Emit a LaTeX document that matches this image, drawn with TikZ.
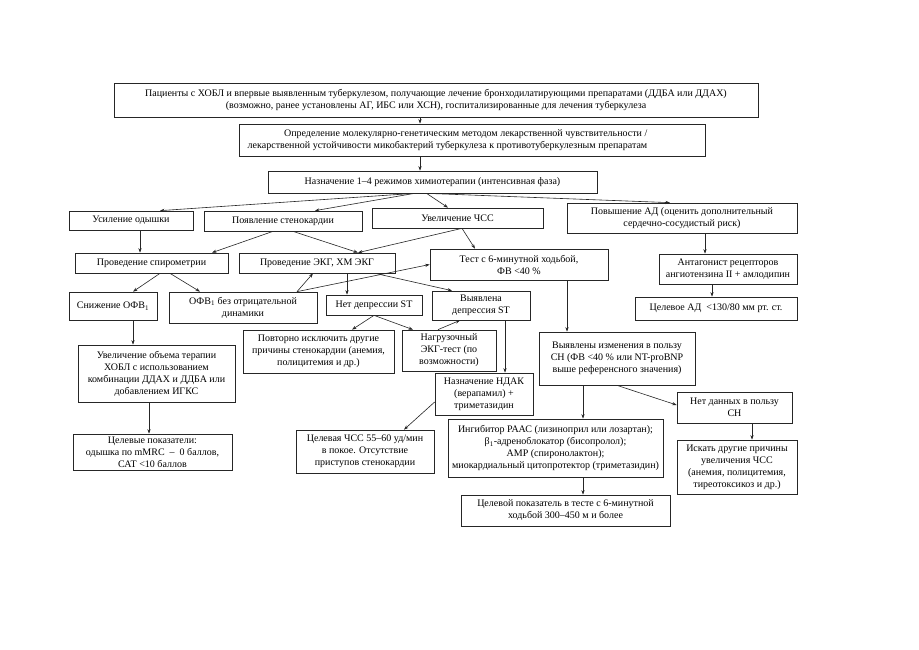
\documentclass[tikz,border=0pt]{standalone}
\usepackage{fontspec}
\setmainfont{Liberation Serif}
\usetikzlibrary{arrows.meta}
\begin{document}
\begin{tikzpicture}[x=1pt,y=-1pt,
  box/.style={draw=black!85,line width=0.7pt,inner sep=1pt,align=center,
    font=\fontsize{10}{12}\selectfont},
  txt/.style={inner sep=0pt,font=\fontsize{10}{12}\selectfont},
  arr/.style={draw=black!85,line width=0.6pt,-{Stealth[length=4.5pt,width=3.2pt]}},
  ln/.style={draw=black!85,line width=0.6pt}]
\useasboundingbox[fill=white] (0,0) rectangle (919,650);
% row 1-3
\node[box,minimum width=644pt,minimum height=34pt] (p1) at (436,100)
 {Пациенты с ХОБЛ и впервые выявленным туберкулезом, получающие лечение бронходилатирующими препаратами (ДДБА или ДДАХ)\\(возможно, ранее установлены АГ, ИБС или ХСН), госпитализированные для лечения туберкулеза};
\node[box,minimum width=466pt,minimum height=32pt] (p2) at (472,140) {};
\node[txt,align=right] (p2t) at (447.5,140)
 {Определение молекулярно-генетическим методом лекарственной чувствительности /\\лекарственной устойчивости микобактерий туберкулеза к противотуберкулезным препаратам};
\node[box,minimum width=329pt,minimum height=22pt] (p3) at (432.5,182)
 {Назначение 1–4 режимов химиотерапии (интенсивная фаза)};
% row 2
\node[box,minimum width=124pt,minimum height=19pt] (dysp) at (131,220.5) {Усиление одышки};
\node[box,minimum width=158pt,minimum height=20pt] (ang) at (283,221) {Появление стенокардии};
\node[box,minimum width=171pt,minimum height=20pt] (hr) at (457.5,218) {Увеличение ЧСС};
\node[box,minimum width=230pt,minimum height=30pt] (bp) at (682,218) {Повышение АД (оценить дополнительный\\сердечно-сосудистый риск)};
% row 3
\node[box,minimum width=153pt,minimum height=20pt] (spiro) at (151.5,263) {Проведение спирометрии};
\node[box,minimum width=156pt,minimum height=20pt] (ekg) at (317,263) {Проведение ЭКГ, ХМ ЭКГ};
\node[box,minimum width=178pt,minimum height=31pt] (test) at (519,264.5) {Тест с 6-минутной ходьбой,\\ФВ <40~\%};
\node[box,minimum width=138pt,minimum height=30pt] (ant) at (728,269) {Антагонист рецепторов\\ангиотензина II + амлодипин};
% row 4
\node[box,minimum width=88pt,minimum height=28pt] (fev) at (113,306) {Снижение ОФВ\textsubscript{1}};
\node[box,minimum width=148pt,minimum height=31pt] (fevn) at (243,307.5) {ОФВ\textsubscript{1} без отрицательной\\динамики};
\node[box,minimum width=96pt,minimum height=20pt] (nost) at (374,305) {Нет депрессии ST};
\node[box,minimum width=98pt,minimum height=29pt] (yesst) at (481,305.5) {Выявлена\\депрессия ST};
\node[box,minimum width=162pt,minimum height=23pt] (tgtbp) at (716,308.5) {Целевое АД~~<130/80 мм рт. ст.};
% row 5
\node[box,minimum width=151pt,minimum height=43pt] (rep) at (318.5,351.5) {Повторно исключить другие\\причины стенокардии (анемия,\\полицитемия и др.)};
\node[box,minimum width=94pt,minimum height=41pt] (load) at (449,350.5) {Нагрузочный\\ЭКГ-тест (по\\возможности)};
\node[box,minimum width=157pt,minimum height=57pt] (copd) at (156.5,373.5) {Увеличение объема терапии\\ХОБЛ с использованием\\комбинации ДДАХ и ДДБА или\\добавлением ИГКС};
\node[box,minimum width=156pt,minimum height=53pt] (chf) at (617,358.5) {Выявлены изменения в пользу\\СН (ФВ <40~\% или NT-proBNP\\выше референсного значения)};
\node[box,minimum width=98pt,minimum height=42pt] (ndak) at (484,394) {Назначение НДАК\\(верапамил) +\\триметазидин};
\node[box,minimum width=115pt,minimum height=31pt] (nochf) at (734.5,407.5) {Нет данных в пользу\\СН};
% row 6
\node[box,minimum width=159pt,minimum height=36pt] (tgt1) at (152.5,452) {Целевые показатели:\\одышка по mMRC~~–~~0 баллов,\\САТ <10 баллов};
\node[box,minimum width=138pt,minimum height=43pt] (tgthr) at (365,451.5) {Целевая ЧСС 55–60 уд/мин\\в покое. Отсутствие\\приступов стенокардии};
\node[box,minimum width=215pt,minimum height=58pt] (inh) at (555.5,448) {Ингибитор РААС (лизиноприл или лозартан);\\β\textsubscript{1}-адреноблокатор (бисопролол);\\АМР (спиронолактон);\\миокардиальный цитопротектор (триметазидин)};
\node[box,minimum width=120pt,minimum height=54pt] (other) at (737,467) {Искать другие причины\\увеличения ЧСС\\(анемия, полицитемия,\\тиреотоксикоз и др.)};
\node[box,minimum width=209pt,minimum height=31pt] (tgtw) at (565.5,510.5) {Целевой показатель в тесте с 6-минутной\\ходьбой 300–450 м и более};
% connectors
\draw[arr] ([xshift=-16pt]p1.south) -- ([xshift=-16pt]p1.south |- p2.north);
\draw[arr] ([xshift=-52pt]p2.south) -- ([xshift=-52pt]p2.south |- p3.north);
\coordinate (fl) at ([xshift=-18pt]p3.south);
\coordinate (fr) at ([xshift=-6pt]p3.south);
\draw[arr] (fl) -- ([xshift=29pt]dysp.north);
\draw[arr] (fl) -- ([xshift=32pt]ang.north);
\draw[arr] (fr) -- ([xshift=-9.5pt]hr.north);
\draw[arr] (fr) -- ([xshift=-12pt]bp.north);
\draw[arr] ([xshift=9pt]dysp.south) -- ([xshift=9pt]dysp.south |- spiro.north);
\draw[arr] ([xshift=-10pt]ang.south) -- ([xshift=60.5pt]spiro.north);
\draw[arr] ([xshift=10pt]ang.south) -- ([xshift=41pt]ekg.north);
\draw[arr] ([xshift=4.5pt]hr.south) -- ([xshift=41pt]ekg.north);
\draw[arr] ([xshift=4.5pt]hr.south) -- ([xshift=-44pt]test.north);
\draw[arr] ([xshift=23pt]bp.south) -- ([xshift=23pt]bp.south |- ant.north);
\draw[arr] ([xshift=-16pt]ant.south) -- ([xshift=-16pt]ant.south |- tgtbp.north);
\draw[arr] ([xshift=8.5pt]spiro.south) -- ([xshift=20pt]fev.north);
\draw[arr] ([xshift=18.5pt]spiro.south) -- ([xshift=-43pt]fevn.north);
\draw[arr] ([xshift=54pt]fevn.north) -- ([xshift=-4pt]ekg.south);
\draw[arr] ([xshift=54pt]fevn.north) -- (test.west);
\draw[arr] ([xshift=30pt]ekg.south) -- ([xshift=30pt]ekg.south |- nost.north);
\draw[arr] ([xshift=58pt]ekg.south) -- ([xshift=-29pt]yesst.north);
\draw[arr] (nost.south) -- ([xshift=33.5pt]rep.north);
\draw[arr] (nost.south) -- ([xshift=-36pt]load.north);
\draw[arr] ([xshift=-11pt]load.north) -- ([xshift=-21pt]yesst.south);
\draw[arr] ([xshift=24pt]yesst.south) -- ([xshift=24pt]yesst.south |- ndak.north);
\draw[arr] ([xshift=48pt]test.south) -- ([xshift=48pt]test.south |- chf.north);
\draw[arr] ([xshift=20pt]fev.south) -- ([xshift=20pt]fev.south |- copd.north);
\draw[arr] ([xshift=-7.5pt]copd.south) -- ([xshift=-7.5pt]copd.south |- tgt1.north);
\draw[arr] ([yshift=-8pt]ndak.west) -- ([xshift=39pt]tgthr.north);
\draw[arr] ([xshift=-34pt]chf.south) -- ([xshift=-34pt]chf.south |- inh.north);
\draw[arr] (chf.south) -- ([yshift=2.5pt]nochf.west);
\draw[arr] ([xshift=17.5pt]nochf.south) -- ([xshift=17.5pt]nochf.south |- other.north);
\draw[arr] ([xshift=27.5pt]inh.south) -- ([xshift=27.5pt]inh.south |- tgtw.north);
\end{tikzpicture}
\end{document}
